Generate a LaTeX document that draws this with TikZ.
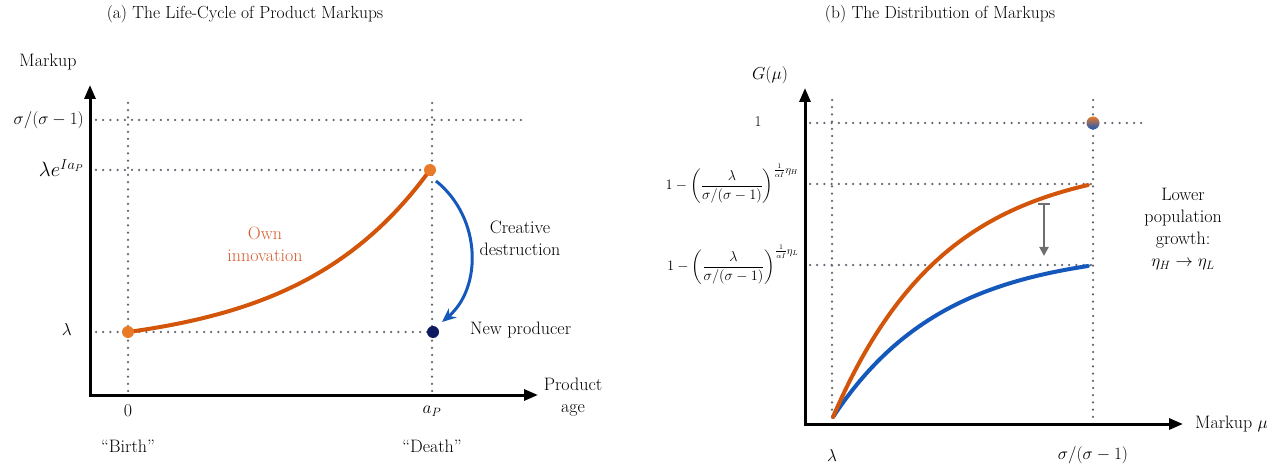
\documentclass[tikz,border=0pt]{standalone}
\usepackage{amsmath}
\usetikzlibrary{arrows.meta}
\definecolor{myorange}{RGB}{210,85,10}
\definecolor{dotorange}{RGB}{232,122,40}
\definecolor{txtorange}{RGB}{214,92,45}
\definecolor{myblue}{RGB}{20,88,188}
\definecolor{navy}{RGB}{15,25,95}
\definecolor{dotgray}{RGB}{95,100,110}
\definecolor{arrowgray}{RGB}{110,110,110}
\begin{document}
\begin{tikzpicture}[x=1pt,y=-1pt,
  lab/.style={font=\fontsize{18}{22}\selectfont, inner sep=0pt, align=center},
  fml/.style={font=\fontsize{15}{18}\selectfont, inner sep=0pt},
  ttl/.style={font=\fontsize{17.5}{21}\selectfont, inner sep=0pt},
  dotline/.style={dotgray, line width=2.5pt, line cap=round, dash pattern=on 0pt off 7.2pt},
  axis/.style={line width=3pt, line join=miter, {Triangle[length=14pt,width=11pt]}-{Triangle[length=14pt,width=11pt]}},
  curve/.style={line width=4pt, line cap=round},
  pt/.style={circle, inner sep=0pt, minimum size=12pt}]
\useasboundingbox (0,0) rectangle (1283,470);

% ---------------- Panel (a) ----------------
\node[ttl] (ta) at (245,14) {(a) The Life-Cycle of Product Markups};

\coordinate (O1) at (90,395);
\coordinate (Y1) at (90,85);
\coordinate (X1) at (538,395);

% dotted guides
\coordinate (hs1) at (96,120);  \coordinate (he1) at (525,120);
\coordinate (hs2) at (96,170);  \coordinate (he2) at (430,170);
\coordinate (hs3) at (96,332);  \coordinate (he3) at (430,332);
\coordinate (vs1) at (128,103); \coordinate (ve1) at (128,395);
\coordinate (vs2) at (432,103); \coordinate (ve2) at (432,395);
\draw[dotline] (hs1) -- (he1);
\draw[dotline] (hs2) -- (he2);
\draw[dotline] (hs3) -- (he3);
\draw[dotline] (vs1) -- (ve1);
\draw[dotline] (vs2) -- (ve2);

\draw[axis] (Y1) -- (O1) -- (X1);

% own innovation curve
\draw[curve, myorange] plot[domain=0:1, samples=60] ({128+302*\x}, {332-162*(exp(2.3*\x)-1)/(exp(2.3)-1)});
\node[pt, fill=dotorange] (dA0) at (128,332) {};
\node[pt, fill=dotorange] (dA1) at (430,170) {};
\node[pt, fill=navy] (dN) at (433,332) {};

% creative destruction arrow
\coordinate (ba1) at (436,181);
\coordinate (ba2) at (442,322);
\draw[myblue, line width=3pt, -{Stealth[length=14pt,width=12pt]}] (ba1) .. controls (482,218) and (482,288) .. (ba2);

% labels
\node[lab] (lMarkup) at (48,62) {Markup};
\node[lab, anchor=east] (lsig) at (84,120) {$\sigma/(\sigma-1)$};
\node[lab, anchor=east, font=\fontsize{20}{24}\selectfont] (lle) at (84,168) {$\lambda e^{I a_P}$};
\node[lab, anchor=east] (llam) at (72,330) {$\lambda$};
\node[lab] (l0) at (128,411) {0};
\node[lab] (laP) at (432,411) {$a_P$};
\node[lab] (lbirth) at (128,446) {``Birth''};
\node[lab] (ldeath) at (432,446) {``Death''};
\node[lab] (lage) at (573,397) {Product\\age};
\node[lab, text=txtorange] (lown) at (265,244) {Own\\innovation};
\node[lab] (lcd) at (520,238) {Creative\\destruction};
\node[lab, anchor=west] (lnp) at (470,330) {New producer};

% ---------------- Panel (b) ----------------
\node[ttl] (tb) at (940,14) {(b) The Distribution of Markups};

\coordinate (O2) at (805,424);
\coordinate (Y2) at (805,88);
\coordinate (X2) at (1183,424);

\coordinate (hs4) at (810,123);  \coordinate (he4) at (1147,123);
\coordinate (hs5) at (810,184);  \coordinate (he5) at (1093,184);
\coordinate (hs6) at (810,265);  \coordinate (he6) at (1093,265);
\coordinate (vs3) at (832,100);  \coordinate (ve3) at (832,424);
\coordinate (vs4) at (1093,100); \coordinate (ve4) at (1093,424);
\draw[dotline] (hs4) -- (he4);
\draw[dotline] (hs5) -- (he5);
\draw[dotline] (hs6) -- (he6);
\draw[dotline] (vs3) -- (ve3);
\draw[dotline] (vs4) -- (ve4);

\draw[axis] (Y2) -- (O2) -- (X2);

\draw[curve, myblue] plot[domain=0:1, samples=60] ({833+255*\x}, {417-151*(1-exp(-2.3*\x))/(1-exp(-2.3))});
\draw[curve, myorange] plot[domain=0:1, samples=60] ({833+255*\x}, {417-232*(1-exp(-2.3*\x))/(1-exp(-2.3))});

\node[pt, top color=dotorange, bottom color=myblue, minimum size=13pt] (dR) at (1093,123) {};

\coordinate (g1) at (1044,203);
\coordinate (g2) at (1044,256);
\draw[arrowgray, line width=2pt, {Bar[width=12pt]}-{Triangle[length=9pt,width=9pt]}] (g1) -- (g2);

\node[lab] (lG) at (770,75) {$G(\mu)$};
\node[fml] (l1) at (758,122) {1};
\node[fml, anchor=east] (fH) at (799,184) {$1-\left(\dfrac{\lambda}{\sigma/(\sigma-1)}\right)^{\frac{1}{\alpha I}\eta_H}$};
\node[fml, anchor=east] (fL) at (799,265) {$1-\left(\dfrac{\lambda}{\sigma/(\sigma-1)}\right)^{\frac{1}{\alpha I}\eta_L}$};
\node[lab] (llam2) at (832,455) {$\lambda$};
\node[lab] (lsig2) at (1093,455) {$\sigma/(\sigma-1)$};
\node[lab, anchor=west] (lmu) at (1195,424) {Markup $\mu$};
\node[lab] (llow) at (1183,229) {Lower\\population\\growth:\\$\eta_H\rightarrow\eta_L$};
\end{tikzpicture}
\end{document}
